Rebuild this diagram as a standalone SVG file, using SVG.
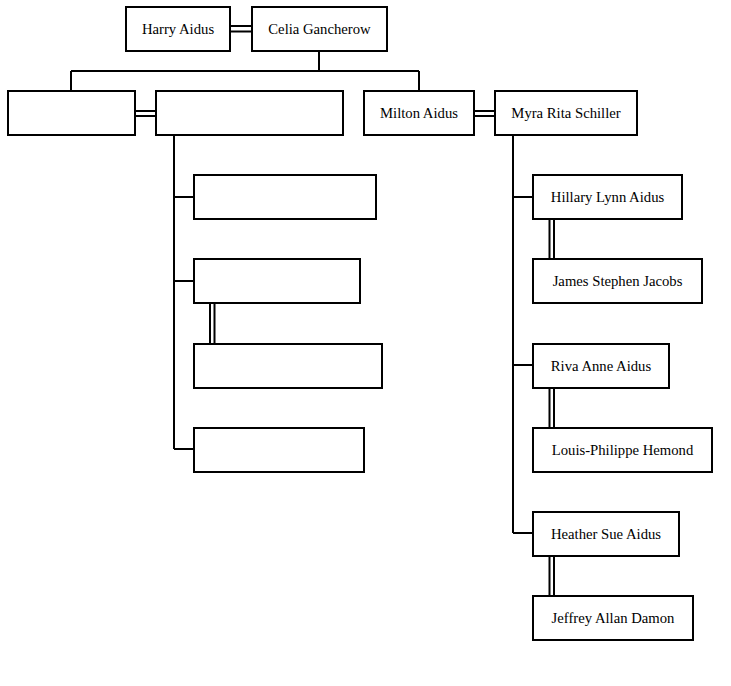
<svg xmlns="http://www.w3.org/2000/svg" width="731" height="686" viewBox="0 0 731 686">
<style>
.box{fill:#fff;stroke:#000;stroke-width:2}
.ln{stroke:#000;stroke-width:2;fill:none}
text{font-family:"Liberation Serif","Times New Roman",serif;font-size:14.7px;fill:#000;text-anchor:middle}
</style>
<rect width="731" height="686" fill="#fff"/>
<g id="connectors" class="ln">
<path d="M231 26H251M231 31.5H251"/>
<path d="M319 52V71M71 71H419M71 71V90M419 71V90"/>
<path d="M136 111H155M136 116H155"/>
<path d="M475 111H494M475 116H494"/>
<path d="M174 136V449M174 197H193M174 281H193M174 449H193"/>
<path d="M210 303V343M214.5 303V343"/>
<path d="M513 136V533M513 197H532M513 365H532M513 533H532"/>
<path d="M549.5 220V258M554 220V258"/>
<path d="M549.5 388V427M554 388V427"/>
<path d="M549.5 556V595M554 556V595"/>
</g>
<g id="harry"><rect class="box" x="126" y="7" width="104" height="44"/><text x="178" y="34">Harry Aidus</text></g>
<g id="celia"><rect class="box" x="252" y="7" width="135" height="44"/><text x="319.5" y="34">Celia Gancherow</text></g>
<g id="left1"><rect class="box" x="8" y="91" width="127" height="44"/></g>
<g id="left2"><rect class="box" x="156" y="91" width="187" height="44"/></g>
<g id="milton"><rect class="box" x="364" y="91" width="110" height="44"/><text x="419" y="118">Milton Aidus</text></g>
<g id="myra"><rect class="box" x="495" y="91" width="142" height="44"/><text x="566" y="118">Myra Rita Schiller</text></g>
<g id="child1"><rect class="box" x="194" y="175" width="182" height="44"/></g>
<g id="child2"><rect class="box" x="194" y="259" width="166" height="44"/></g>
<g id="child2spouse"><rect class="box" x="194" y="344" width="188" height="44"/></g>
<g id="child3"><rect class="box" x="194" y="428" width="170" height="44"/></g>
<g id="hillary"><rect class="box" x="533" y="175" width="149" height="44"/><text x="607.5" y="202">Hillary Lynn Aidus</text></g>
<g id="james"><rect class="box" x="533" y="259" width="169" height="44"/><text x="617.5" y="286">James Stephen Jacobs</text></g>
<g id="riva"><rect class="box" x="533" y="344" width="136" height="44"/><text x="601" y="371">Riva Anne Aidus</text></g>
<g id="louis"><rect class="box" x="533" y="428" width="179" height="44"/><text x="622.5" y="455">Louis-Philippe Hemond</text></g>
<g id="heather"><rect class="box" x="533" y="512" width="146" height="44"/><text x="606" y="539">Heather Sue Aidus</text></g>
<g id="jeffrey"><rect class="box" x="533" y="596" width="160" height="44"/><text x="613" y="623">Jeffrey Allan Damon</text></g>
</svg>
